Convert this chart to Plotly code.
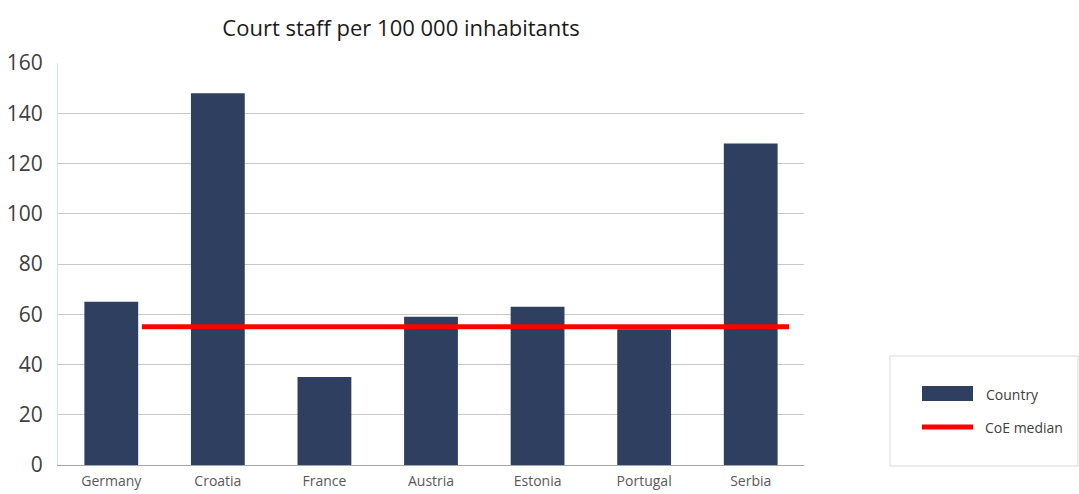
import plotly.graph_objects as go

countries = ["Germany", "Croatia", "France", "Austria", "Estonia", "Portugal", "Serbia"]
court_staff = [65, 148, 35, 59, 63, 54, 128]
coe_median = 55
y_ticks = [0, 20, 40, 60, 80, 100, 120, 140, 160]

BAR_COLOR = "#2f3f5f"
LINE_COLOR = "#ff0000"
W, H = 1079, 494

fig = go.Figure()
fig.add_trace(go.Bar(
    x=countries, y=court_staff, name="Country",
    marker=dict(color=BAR_COLOR, line=dict(width=0)),
    width=0.505,
))
# median line drawn on an overlaid category axis spanning the plot
fig.add_trace(go.Scatter(
    x=[countries[0], countries[-1]], y=[coe_median, coe_median],
    name="CoE median", mode="lines",
    line=dict(color=LINE_COLOR, width=5),
    xaxis="x2",
))

# plot area in page pixels
x0_plot, x1_plot = 58, W - 275
y0_plot, y1_plot = 63, H - 29


def fx(v):
    """page x pixel -> paper fraction"""
    return (v - x0_plot) / (x1_plot - x0_plot)


def fy(v):
    """page y pixel -> paper fraction"""
    return 1 - (v - y0_plot) / (y1_plot - y0_plot)


# legend panel on the right
shapes = [
    dict(type="rect", xref="paper", yref="paper", layer="above",
         x0=fx(890), x1=fx(1078), y0=fy(466), y1=fy(356),
         line=dict(color="#d9d9d9", width=1), fillcolor="white"),
    dict(type="rect", xref="paper", yref="paper", layer="above",
         x0=fx(922), x1=fx(973), y0=fy(401), y1=fy(386),
         line=dict(width=0), fillcolor=BAR_COLOR),
    dict(type="line", xref="paper", yref="paper", layer="above",
         x0=fx(922), x1=fx(973), y0=fy(427), y1=fy(427),
         line=dict(color=LINE_COLOR, width=5)),
]
annotations = [
    dict(text=fig.data[0].name, xref="paper", yref="paper",
         x=fx(984), y=fy(394), xanchor="left", yanchor="middle",
         showarrow=False, font=dict(size=14, color="#404040")),
    dict(text=fig.data[1].name, xref="paper", yref="paper",
         x=fx(983), y=fy(427), xanchor="left", yanchor="middle",
         showarrow=False, font=dict(size=14, color="#404040")),
]

fig.update_layout(
    width=W, height=H,
    margin=dict(l=x0_plot, r=W - x1_plot, t=y0_plot, b=H - y1_plot, autoexpand=False),
    paper_bgcolor="white", plot_bgcolor="white",
    font=dict(family="Open Sans, Noto Sans, sans-serif", color="#404040"),
    title=dict(text="Court staff per 100 000 inhabitants",
               x=401 / W, xanchor="center", y=1 - 28 / H, yanchor="middle",
               font=dict(size=22, color="#1a1a1a")),
    showlegend=False,
    xaxis=dict(
        type="category", range=[-0.5, 6.5], automargin=False,
        showline=True, linecolor="#a6a6a6", linewidth=1,
        showgrid=False, ticks="", tickfont=dict(size=14, color="#595959"),
        ticklabelstandoff=3,
    ),
    xaxis2=dict(
        type="category", overlaying="x", range=[-0.778, 6.139],
        categoryorder="array", categoryarray=countries,
        visible=False,
    ),
    yaxis=dict(
        range=[0, 160], tickvals=y_ticks, automargin=False,
        showgrid=True, gridcolor="#c8c8c8", gridwidth=1,
        showline=True, linecolor="#d5e3d8", linewidth=1,
        zeroline=False,
        tickfont=dict(size=21, color="#404040"),
        ticks="", ticklabelstandoff=10,
    ),
    shapes=shapes,
    annotations=annotations,
)

fig.write_html("out.html")
